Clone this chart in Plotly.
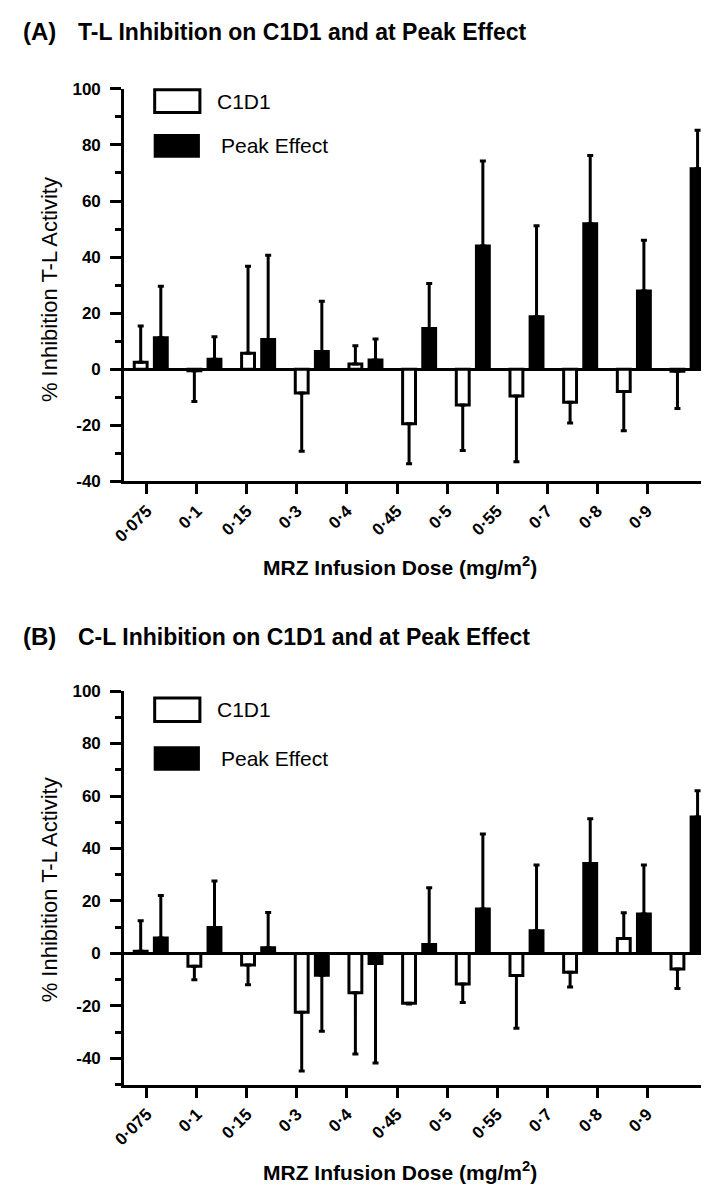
import plotly.graph_objects as go

# ---------------- data ----------------
doses = ["0·075", "0·1", "0·15", "0·3", "0·4", "0·45", "0·5", "0·55", "0·7", "0·8", "0·9"]

# Panel A: T-L inhibition
c1d1_A = [2.5, -0.5, 5.7, -8.5, 1.9, -19.4, -12.7, -9.5, -11.8, -7.9, -0.7]
c1d1_A_err = [12.9, 11.0, 31.0, 20.7, 6.5, 14.3, 16.3, 23.5, 7.4, 14.0, 13.3]
peak_A = [11.2, 3.6, 10.6, 6.3, 3.3, 14.5, 44.0, 18.7, 51.9, 27.9, 71.5]
peak_A_err = [18.4, 8.0, 30.1, 18.0, 7.5, 16.1, 30.3, 32.5, 24.3, 18.1, 13.7]

# Panel B: C-L inhibition
c1d1_B = [0.8, -4.9, -4.4, -22.4, -15.0, -19.0, -11.6, -8.4, -7.2, 5.7, -5.9]
c1d1_B_err = [11.7, 5.1, 7.5, 22.4, 23.3, 0.3, 7.1, 20.1, 5.6, 9.8, 7.5]
peak_B = [5.9, 9.9, 2.2, -8.3, -3.8, 3.4, 16.9, 8.7, 34.3, 15.0, 52.0]
peak_B_err = [16.2, 17.7, 13.4, 21.3, 37.9, 21.6, 28.6, 25.0, 17.0, 18.7, 10.0]

y_ticks_A = [-40, -20, 0, 20, 40, 60, 80, 100]
y_ticks_B = [-40, -20, 0, 20, 40, 60, 80, 100]

series_names = ["C1D1", "Peak Effect"]
titles = ["T-L Inhibition on C1D1 and at Peak Effect", "C-L Inhibition on C1D1 and at Peak Effect"]
panel_tags = ["(A)", "(B)"]
y_title = "% Inhibition T-L Activity"
x_title = "MRZ Infusion Dose (mg/m<sup>2</sup>)"

# ---------------- layout helpers ----------------
W, H = 709, 1189
FONT = "Liberation Sans, Arial, Helvetica, sans-serif"


def px(x):
    return x / W


def py(y):
    return 1 - y / H


def one_sided(values, errs):
    plus = [e if v >= 0 else 0 for v, e in zip(values, errs)]
    minus = [e if v < 0 else 0 for v, e in zip(values, errs)]
    return plus, minus


fig = go.Figure()

panels = [
    dict(c1=c1d1_A, c1e=c1d1_A_err, pk=peak_A, pke=peak_A_err, xa="x", ya="y", xt="x3"),
    dict(c1=c1d1_B, c1e=c1d1_B_err, pk=peak_B, pke=peak_B_err, xa="x2", ya="y2", xt="x4"),
]

for p in panels:
    for name, vals, errs, fill in [
        (series_names[0], p["c1"], p["c1e"], "white"),
        (series_names[1], p["pk"], p["pke"], "black"),
    ]:
        plus, minus = one_sided(vals, errs)
        fig.add_trace(go.Bar(
            x=doses, y=vals, name=name, showlegend=False,
            xaxis=p["xa"], yaxis=p["ya"],
            marker=dict(color=fill, line=dict(color="black", width=3)),
            error_y=dict(type="data", symmetric=False, array=plus, arrayminus=minus,
                         color="black", thickness=3, width=3),
        ))
    # carrier for the tick-label axis
    fig.add_trace(go.Scatter(x=doses, y=[None] * len(doses), xaxis=p["xt"], yaxis=p["ya"],
                             mode="markers", showlegend=False, hoverinfo="skip"))

xdom = [px(106), px(706)]
bar_range = [(106 - 133) / 54.6, (706 - 133) / 54.6]
tick_range = [(106 - 129) / 50.9, (706 - 129) / 50.9]

common_bar_x = dict(domain=xdom, type="category", range=bar_range, showticklabels=False,
                    ticks="", showline=True, linewidth=3, linecolor="black",
                    showgrid=False, zeroline=False, fixedrange=True)
common_tick_x = dict(domain=xdom, type="category", range=tick_range, side="bottom",
                     showline=False, showgrid=False, zeroline=False,
                     ticks="outside", ticklen=12, tickwidth=3, tickcolor="black",
                     tickangle=-45, tickvals=doses, ticktext=doses,
                     tickfont=dict(family=FONT, size=17, color="black", weight="bold"))


def yax(domain, rng, ticks):
    return dict(domain=domain, range=rng, tickvals=ticks, ticktext=[str(t) for t in ticks],
                showline=True, linewidth=3, linecolor="black", showgrid=False,
                zeroline=True, zerolinecolor="black", zerolinewidth=3,
                ticks="outside", ticklen=11, tickwidth=3, tickcolor="black",
                ticklabelstandoff=6,
                minor=dict(dtick=10, ticks="outside", ticklen=6, tickwidth=3, tickcolor="black"),
                tickfont=dict(family=FONT, size=17, color="black", weight="bold"))


annotations = []
shapes = []

panel_geo = [
    dict(title_y=15, ytitle_y=277, xtitle_y=558, leg1=(73, 98), leg2=(119, 143)),
    dict(title_y=630, ytitle_y=887, xtitle_y=1173, leg1=(691, 717), leg2=(741, 766)),
]

for i, g in enumerate(panel_geo):
    annotations.append(dict(x=px(1), y=py(g["title_y"]), xref="paper", yref="paper",
                            xanchor="left", yanchor="middle", showarrow=False,
                            text="<b>" + panel_tags[i] + "</b>",
                            font=dict(family=FONT, size=24, color="black")))
    annotations.append(dict(x=px(57), y=py(g["title_y"]), xref="paper", yref="paper",
                            xanchor="left", yanchor="middle", showarrow=False,
                            text="<b>" + titles[i] + "</b>",
                            font=dict(family=FONT, size=23, color="black")))
    annotations.append(dict(x=px(30), y=py(g["ytitle_y"]), xref="paper", yref="paper",
                            xanchor="center", yanchor="middle", showarrow=False, textangle=-90,
                            text=y_title, font=dict(family=FONT, size=22, color="black")))
    annotations.append(dict(x=px(387), y=py(g["xtitle_y"]), xref="paper", yref="paper",
                            xanchor="center", yanchor="middle", showarrow=False,
                            text="<b>" + x_title + "</b>",
                            font=dict(family=FONT, size=21, color="black")))
    # legend
    y0, y1 = g["leg1"]
    shapes.append(dict(type="rect", xref="paper", yref="paper", x0=px(137), x1=px(183),
                       y0=py(y1 - 1), y1=py(y0 + 1), fillcolor="white",
                       line=dict(color="black", width=3)))
    annotations.append(dict(x=px(198), y=py((y0 + y1) / 2), xref="paper", yref="paper",
                            xanchor="left", yanchor="middle", showarrow=False,
                            text=series_names[0], font=dict(family=FONT, size=21, color="black")))
    y0, y1 = g["leg2"]
    shapes.append(dict(type="rect", xref="paper", yref="paper", x0=px(136), x1=px(183),
                       y0=py(y1), y1=py(y0), fillcolor="black",
                       line=dict(color="black", width=0)))
    annotations.append(dict(x=px(202), y=py((y0 + y1) / 2), xref="paper", yref="paper",
                            xanchor="left", yanchor="middle", showarrow=False,
                            text=series_names[1], font=dict(family=FONT, size=21, color="black")))

fig.update_layout(
    width=W, height=H,
    margin=dict(l=0, r=0, t=0, b=0),
    paper_bgcolor="white", plot_bgcolor="white",
    barmode="group", bargap=0.25, bargroupgap=0.36,
    showlegend=False,
    font=dict(family=FONT, color="black"),
    xaxis=dict(anchor="y", **common_bar_x),
    xaxis2=dict(anchor="y2", **common_bar_x),
    xaxis3=dict(anchor="y", overlaying="x", **common_tick_x),
    xaxis4=dict(anchor="y2", overlaying="x2", **common_tick_x),
    yaxis=dict(anchor="x", **yax([py(472), py(73)], [-40, 100], y_ticks_A)),
    yaxis2=dict(anchor="x2", **yax([py(1085), py(685)], [-50, 100], y_ticks_B)),
    annotations=annotations,
    shapes=shapes,
)

fig.write_html("out.html")
